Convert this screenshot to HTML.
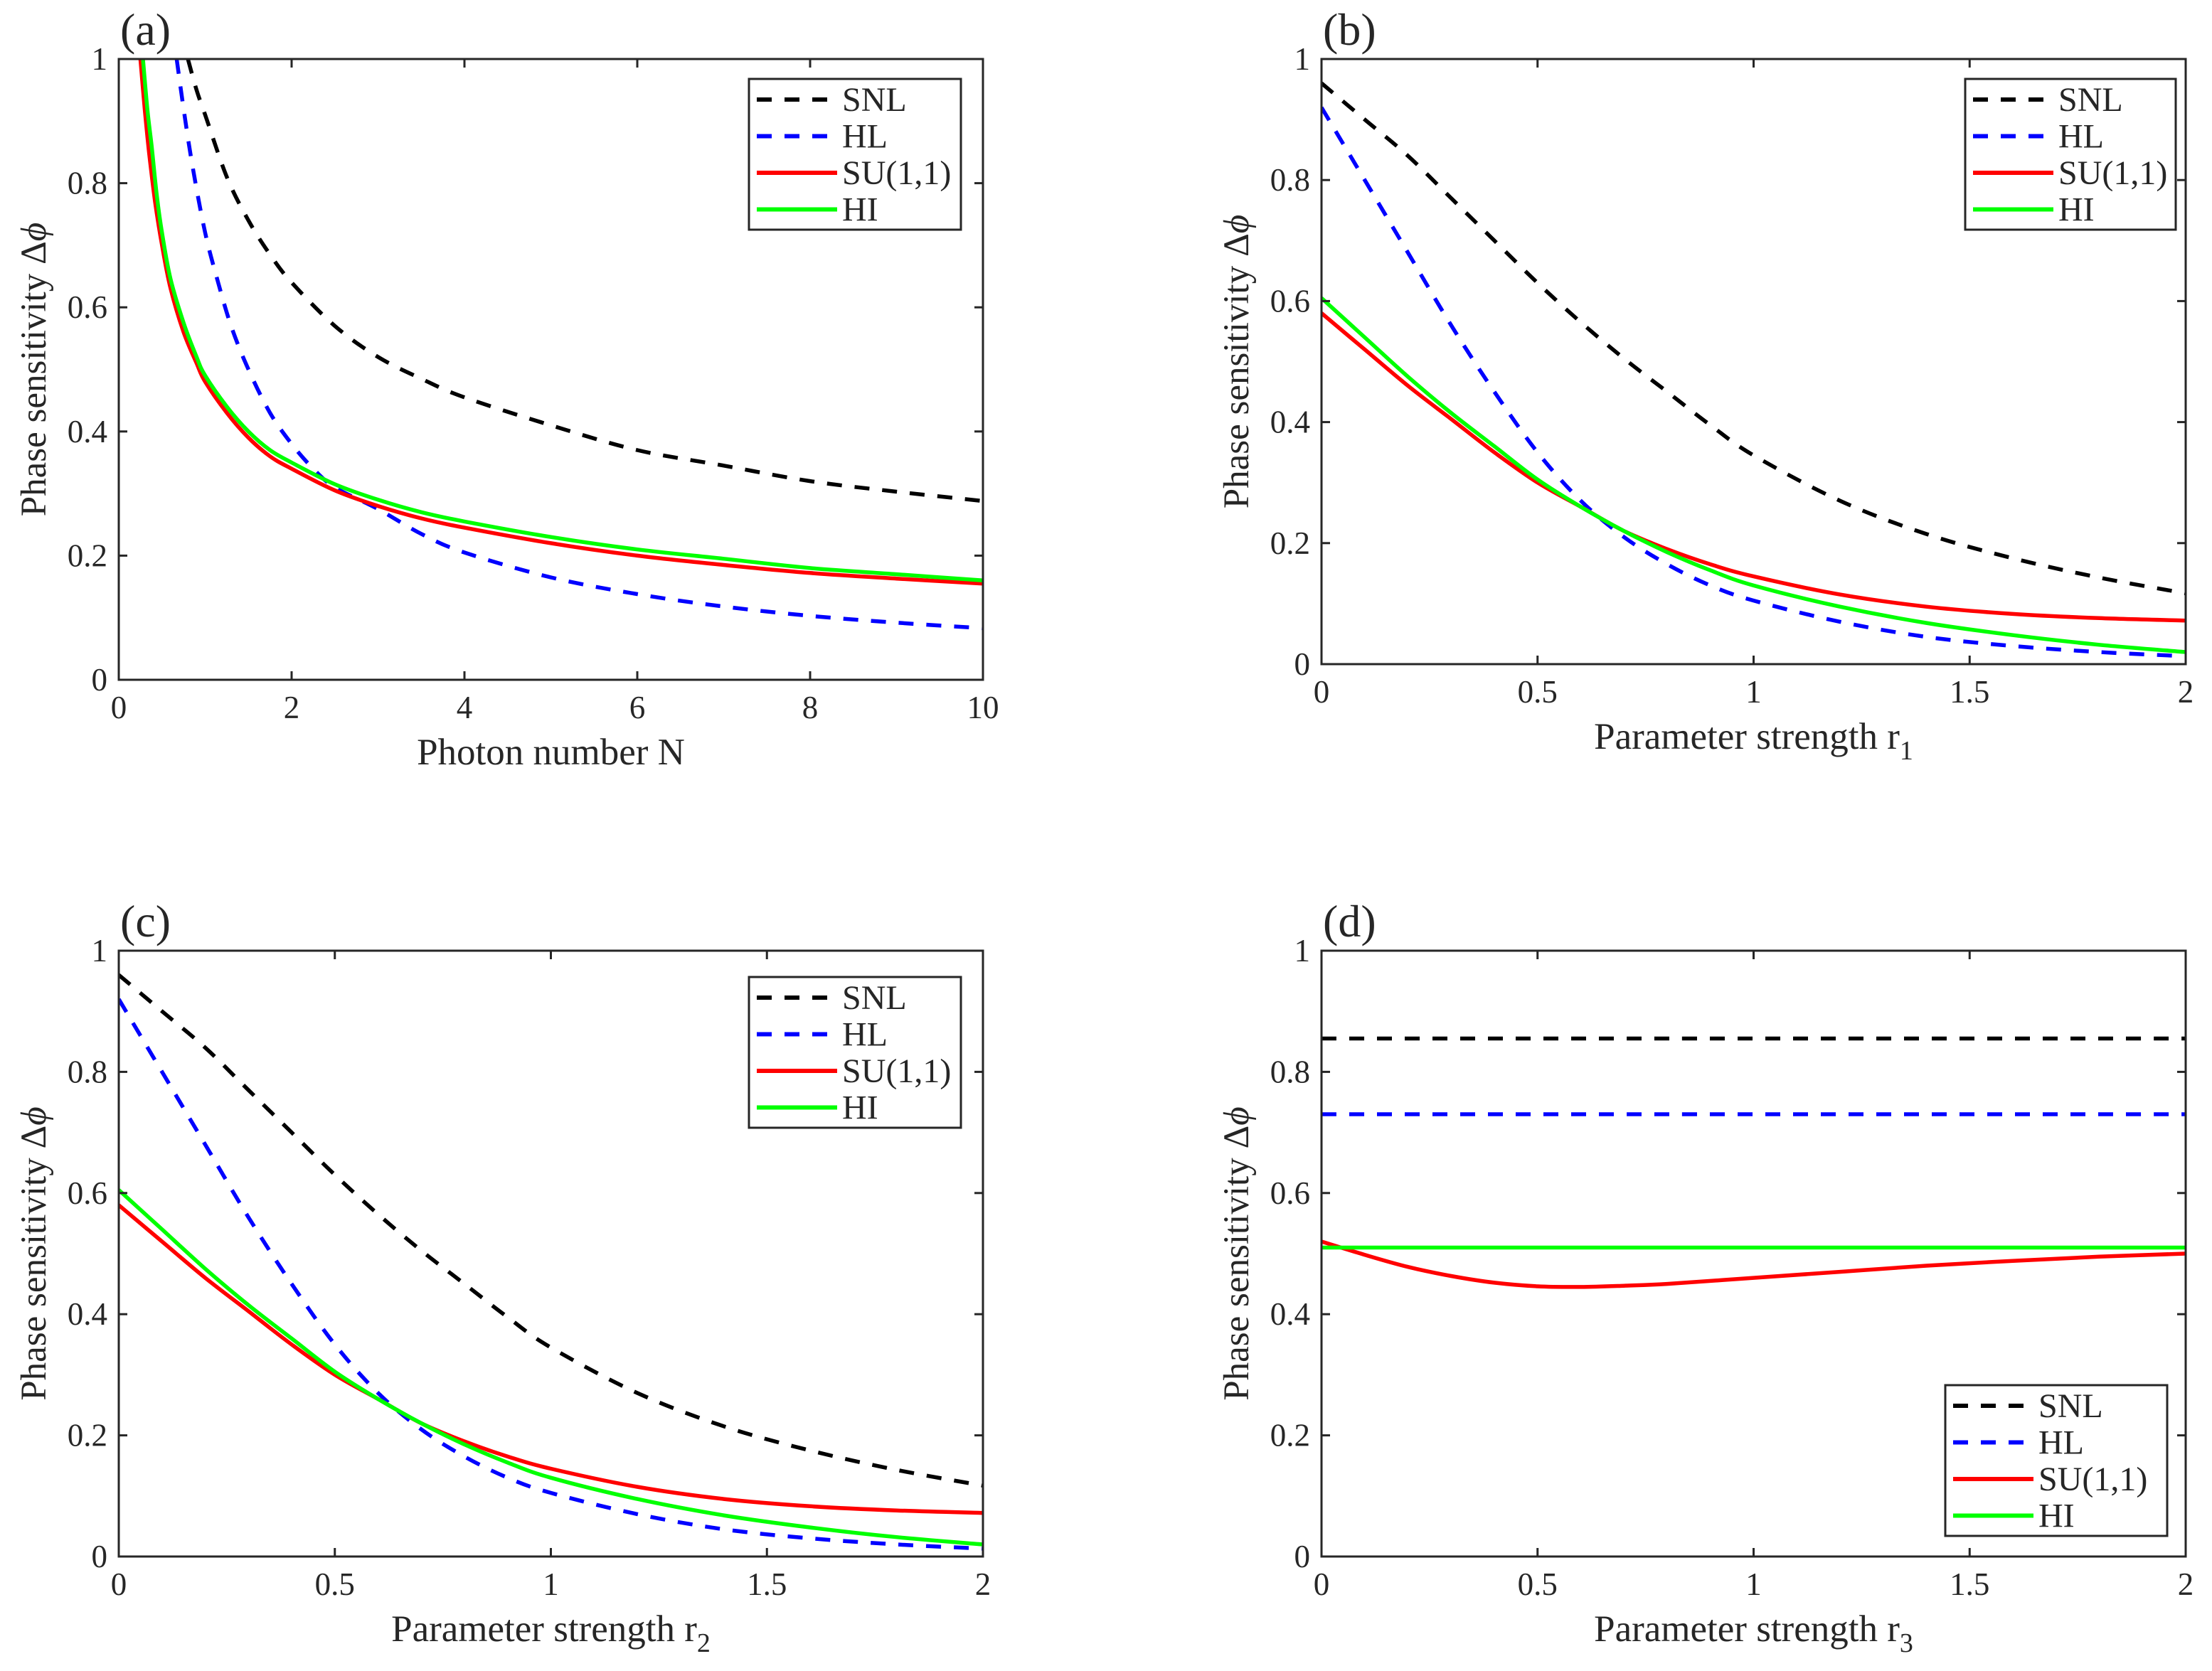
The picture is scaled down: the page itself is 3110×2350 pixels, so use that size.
<!DOCTYPE html>
<html><head><meta charset="utf-8"><style>
html,body{margin:0;padding:0;background:#fff}
svg{display:block}
text{font-family:"Liberation Serif",serif;fill:#262626}
</style></head><body>
<svg id="fig" width="3110" height="2350" viewBox="0 0 3110 2350" xmlns="http://www.w3.org/2000/svg"></svg>
<script>
// ---- Panel (a) data ----
const aSnlX=[0.8,0.9,1,1.25,1.5,1.75,2,2.5,3,3.5,4,5,6,7,8,9,10];
const aSnlY=[1,0.95,0.91,0.81,0.74,0.685,0.64,0.57,0.52,0.485,0.455,0.41,0.37,0.345,0.32,0.303,0.288];
const aHlX=[0.67,0.75,0.85,1,1.15,1.3,1.5,1.75,2,2.25,2.5,3,3.5,4,5,6,7,8,9,10];
const aHlY=[1,0.92,0.83,0.72,0.64,0.57,0.5,0.43,0.38,0.34,0.31,0.275,0.235,0.205,0.165,0.138,0.118,0.103,0.092,0.083];
const aSuX=[0.25,0.3,0.35,0.42,0.5,0.6,0.75,0.9,1,1.25,1.5,1.75,2,2.5,3,3.5,4,5,6,7,8,9,10];
const aSuY=[1,0.92,0.85,0.77,0.70,0.63,0.56,0.51,0.48,0.43,0.39,0.36,0.34,0.305,0.28,0.26,0.245,0.22,0.2,0.185,0.172,0.163,0.155];
const aHiX=[0.28,0.33,0.38,0.44,0.5,0.6,0.75,0.9,1,1.25,1.5,1.75,2,2.5,3,3.5,4,5,6,7,8,9,10];
const aHiY=[1,0.92,0.86,0.78,0.72,0.645,0.575,0.52,0.49,0.44,0.40,0.37,0.35,0.315,0.29,0.27,0.255,0.23,0.21,0.195,0.18,0.17,0.16];
// ---- Panels (b),(c) data ----
const rX=[0,0.1,0.2,0.3,0.4,0.5,0.6,0.7,0.8,0.9,1,1.2,1.4,1.6,1.8,2];
const bSnlY=[0.96,0.90,0.84,0.77,0.70,0.63,0.565,0.505,0.45,0.395,0.345,0.27,0.215,0.175,0.143,0.117];
const bHlY=[0.92,0.80,0.68,0.56,0.45,0.35,0.27,0.21,0.165,0.13,0.105,0.07,0.045,0.03,0.02,0.013];
const bSuY=[0.58,0.52,0.46,0.405,0.35,0.30,0.26,0.22,0.19,0.165,0.145,0.115,0.095,0.083,0.076,0.072];
const bHiY=[0.605,0.54,0.475,0.415,0.36,0.305,0.26,0.22,0.185,0.155,0.13,0.095,0.068,0.048,0.032,0.02];
// ---- Panel (d) data ----
const dX=[0,0.1,0.2,0.3,0.4,0.5,0.6,0.7,0.8,1,1.2,1.4,1.6,1.8,2];
const dSnlY=[0.855,0.855,0.855,0.855,0.855,0.855,0.855,0.855,0.855,0.855,0.855,0.855,0.855,0.855,0.855];
const dHlY=[0.73,0.73,0.73,0.73,0.73,0.73,0.73,0.73,0.73,0.73,0.73,0.73,0.73,0.73,0.73];
const dSuY=[0.52,0.498,0.478,0.463,0.452,0.446,0.445,0.447,0.45,0.46,0.47,0.48,0.488,0.495,0.5];
const dHiY=[0.51,0.51,0.51,0.51,0.51,0.51,0.51,0.51,0.51,0.51,0.51,0.51,0.51,0.51,0.51];
// tick labels
const yTicks=[0,0.2,0.4,0.6,0.8,1];
const yTickLabels=["0","0.2","0.4","0.6","0.8","1"];
const aXTicks=[0,2,4,6,8,10];
const aXTickLabels=["0","2","4","6","8","10"];
const rXTicks=[0,0.5,1,1.5,2];
const rXTickLabels=["0","0.5","1","1.5","2"];
const legendNames=["SNL","HL","SU(1,1)","HI"];

const NS="http://www.w3.org/2000/svg";
const svg=document.getElementById('fig');
function mk(tag,attrs,parent){const e=document.createElementNS(NS,tag);for(const k in attrs)e.setAttribute(k,attrs[k]);(parent||svg).appendChild(e);return e;}
const styles=[{c:"#000000",d:"21 18"},{c:"#0000ff",d:"21 18"},{c:"#ff0000",d:""},{c:"#00ff00",d:""}];

function smoothPath(pts){
  let d='M'+pts[0][0].toFixed(1)+' '+pts[0][1].toFixed(1);
  for(let i=0;i<pts.length-1;i++){
    const p0=pts[i-1]||pts[i],p1=pts[i],p2=pts[i+1],p3=pts[i+2]||p2;
    const c1=[p1[0]+(p2[0]-p0[0])/6,p1[1]+(p2[1]-p0[1])/6];
    const c2=[p2[0]-(p3[0]-p1[0])/6,p2[1]-(p3[1]-p1[1])/6];
    d+=' C'+c1[0].toFixed(1)+' '+c1[1].toFixed(1)+' '+c2[0].toFixed(1)+' '+c2[1].toFixed(1)+' '+p2[0].toFixed(1)+' '+p2[1].toFixed(1);
  }
  return d;
}

function panel(id,L,T,R,B,xmax,xt,xtl,xlabel,sub,series,leg,ylx){
  const g=mk('g',{});
  
  
  const sx=v=>L+(R-L)*v/xmax, sy=v=>B-(B-T)*v;
  const clip=mk('clipPath',{id:'clip'+id},g);
  mk('rect',{x:L,y:T,width:R-L,height:B-T},clip);
  series.forEach((s,i)=>{
    const pts=s.x.map((x,j)=>[sx(x),sy(s.y[j])]);
    const p=mk('path',{d:smoothPath(pts),fill:'none',stroke:styles[i].c,'stroke-width':5.5,'stroke-dasharray':styles[i].d,'clip-path':'url(#clip'+id+')'},g);
    
    
  });
  const box=mk('rect',{x:L,y:T,width:R-L,height:B-T,fill:'none',stroke:'#262626','stroke-width':3},g);
  
  
  yTicks.forEach((v,i)=>{
    const y=sy(v);
    mk('line',{x1:L,y1:y,x2:L+12,y2:y,stroke:'#262626','stroke-width':3},g);
    mk('line',{x1:R,y1:y,x2:R-12,y2:y,stroke:'#262626','stroke-width':3},g);
    const t=mk('text',{x:L-16,y:y+15,'text-anchor':'end','font-size':45},g);
    t.textContent=yTickLabels[i];
    
    
  });
  xt.forEach((v,i)=>{
    const x=sx(v);
    mk('line',{x1:x,y1:B,x2:x,y2:B-12,stroke:'#262626','stroke-width':3},g);
    mk('line',{x1:x,y1:T,x2:x,y2:T+12,stroke:'#262626','stroke-width':3},g);
    const t=mk('text',{x:x,y:B+54,'text-anchor':'middle','font-size':45},g);
    t.textContent=xtl[i];
    
    
  });
  const xl=mk('text',{x:(L+R)/2,y:B+119,'text-anchor':'middle','font-size':53},g);
  xl.textContent=xlabel;
  if(sub){const ts=mk('tspan',{'font-size':38,dy:15},xl);ts.textContent=sub;}
  
  
  const cy=(T+B)/2;
  const yl=mk('text',{x:0,y:0,'text-anchor':'middle','font-size':51,transform:'translate('+ylx+','+cy+') rotate(-90)'},g);
  yl.textContent='Phase sensitivity \u0394';
  const phi=mk('tspan',{'font-style':'italic'},yl);phi.textContent='\u03D5';
  
  
  const pl=mk('text',{x:L+2,y:T-20,'font-size':64},g);
  pl.textContent='('+id+')';
  
  
  const lg=mk('g',{},g);
  
  
  mk('rect',{x:leg.x,y:leg.y,width:leg.w,height:212,fill:'#fff',stroke:'#262626','stroke-width':3},lg);
  legendNames.forEach((n,i)=>{
    const y=leg.y+29+i*51.5;
    const e=mk('g',{},lg);
    
    
    mk('line',{x1:leg.x+11,y1:y,x2:leg.x+124,y2:y,stroke:styles[i].c,'stroke-width':6,'stroke-dasharray':styles[i].d},e);
    const t=mk('text',{x:leg.x+131,y:y+16,'font-size':48,fill:'#000'},e);
    t.textContent=n;
  });
}
panel('a',167,83,1382,956,10,aXTicks,aXTickLabels,'Photon number N','',
 [{x:aSnlX,y:aSnlY},{x:aHlX,y:aHlY},{x:aSuX,y:aSuY},{x:aHiX,y:aHiY}],{x:1053,y:111,w:298},64);
panel('b',1858,83,3073,934,2,rXTicks,rXTickLabels,'Parameter strength r','1',
 [{x:rX,y:bSnlY},{x:rX,y:bHlY},{x:rX,y:bSuY},{x:rX,y:bHiY}],{x:2763,y:111,w:296},1755);
panel('c',167,1337,1382,2189,2,rXTicks,rXTickLabels,'Parameter strength r','2',
 [{x:rX,y:bSnlY},{x:rX,y:bHlY},{x:rX,y:bSuY},{x:rX,y:bHiY}],{x:1053,y:1374,w:298},64);
panel('d',1858,1337,3073,2189,2,rXTicks,rXTickLabels,'Parameter strength r','3',
 [{x:dX,y:dSnlY},{x:dX,y:dHlY},{x:dX,y:dSuY},{x:dX,y:dHiY}],{x:2735,y:1948,w:312},1755);
</script>
</body></html>
